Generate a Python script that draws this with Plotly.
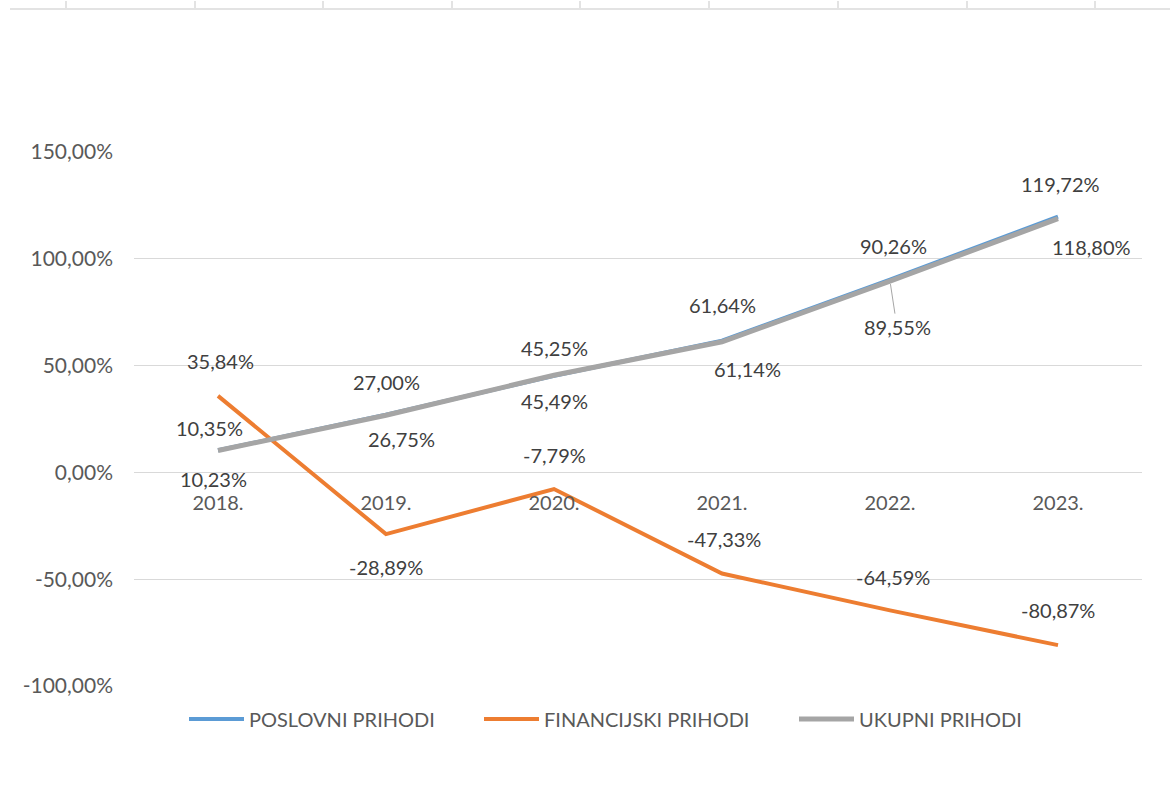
import plotly.graph_objects as go

OFF = 0
W, H = 1170, 787
ML, MR, MT, MB = 134, 28, 152, 101

categories = ["2018.", "2019.", "2020.", "2021.", "2022.", "2023."]
poslovni = [10.35, 27.00, 45.25, 61.64, 90.26, 119.72]
financijski = [35.84, -28.89, -7.79, -47.33, -64.59, -80.87]
ukupni = [10.23, 26.75, 45.49, 61.14, 89.55, 118.80]
series_names = ["POSLOVNI PRIHODI", "FINANCIJSKI PRIHODI", "UKUPNI PRIHODI"]
ytick_vals = [-100, -50, 0, 50, 100, 150]
ytick_text = ["-100,00%", "-50,00%", "0,00%", "50,00%", "100,00%", "150,00%"]

# label offsets (px): (dx, dy) with dy positive = up
off_pos = [(-9, 22), (0, 33), (0, 28), (0, 36), (3, 34), (2, 33)]
off_fin = [(2, 35), (0, -33), (0, 34), (2, 35), (3, 33), (0, 35)]
off_uk = [(-5, -28), (15, -24), (0, -26), (25, -27), (None, None), (33, -28)]

colors = {"pos": "#5B9BD5", "fin": "#ED7D31", "uk": "#A5A5A5"}
FONT = "Lato, 'Open Sans', sans-serif"
LBL = "#404040"
AX = "#595959"


def px2x(px):
    return (px - OFF - ML) / (W - ML - MR)


def px2y(py):
    return (H + OFF - MB - py) / (H - MT - MB)


def fmt(v):
    return f"{v:.2f}".replace(".", ",") + "%"


fig = go.Figure()
fig.add_trace(go.Scatter(x=categories, y=poslovni, mode="lines", name=series_names[0],
                         line=dict(color=colors["pos"], width=4), legend="legend"))
fig.add_trace(go.Scatter(x=categories, y=financijski, mode="lines", name=series_names[1],
                         line=dict(color=colors["fin"], width=4), legend="legend2"))
fig.add_trace(go.Scatter(x=categories, y=ukupni, mode="lines", name=series_names[2],
                         line=dict(color=colors["uk"], width=5), legend="legend3"))

annotations = []
for vals, offs in [(poslovni, off_pos), (financijski, off_fin), (ukupni, off_uk)]:
    for i, (v, (dx, dy)) in enumerate(zip(vals, offs)):
        if dx is None:
            continue
        annotations.append(dict(x=i, y=v, xref="x", yref="y", text=fmt(v), showarrow=False,
                                xshift=dx, yshift=dy,
                                font=dict(family=FONT, size=20, color=LBL)))
# label with leader line
annotations.append(dict(x=4, y=ukupni[4], xref="x", yref="y", text=fmt(ukupni[4]),
                        showarrow=True, arrowhead=0, arrowwidth=1, arrowcolor="#A6A6A6",
                        ax=7, ay=46, standoff=3,
                        font=dict(family=FONT, size=20, color=LBL)))

shapes = [dict(type="line", xref="paper", yref="paper", x0=px2x(10), x1=px2x(1170),
               y0=px2y(9), y1=px2y(9), line=dict(color="#E3E3E3", width=2))]
for tx in [66, 195, 323, 452, 580, 709, 838, 967, 1095]:
    shapes.append(dict(type="line", xref="paper", yref="paper", x0=px2x(tx), x1=px2x(tx),
                       y0=px2y(1), y1=px2y(8), line=dict(color="#E3E3E3", width=2)))

legend_common = dict(orientation="h", yanchor="middle", y=px2y(719), xanchor="left",
                     font=dict(family=FONT, size=20, color=AX), bgcolor="rgba(0,0,0,0)",
                     itemwidth=55)

fig.update_layout(
    width=W, height=H,
    margin=dict(l=ML, r=MR, t=MT, b=MB),
    paper_bgcolor="white", plot_bgcolor="white",
    separators=", ",
    font=dict(family=FONT, color=AX),
    xaxis=dict(type="category", range=[-0.5, 5.5], anchor="free", position=px2y(472),
               showgrid=False, showline=False, zeroline=False, ticks="",
               tickfont=dict(family=FONT, size=20, color=AX), ticklabelstandoff=17),
    yaxis=dict(range=[-100, 150], tickvals=ytick_vals, ticktext=ytick_text,
               showgrid=True, gridcolor="#D9D9D9", gridwidth=1, zeroline=True,
               zerolinecolor="#D9D9D9", zerolinewidth=1, showline=False, ticks="",
               tickfont=dict(family=FONT, size=21, color=AX), ticklabelstandoff=20),
    legend=dict(legend_common, x=px2x(184)),
    legend2=dict(legend_common, x=px2x(479)),
    legend3=dict(legend_common, x=px2x(794)),
    annotations=annotations,
    shapes=shapes,
    showlegend=True,
)

fig.write_html("out.html", config={"displayModeBar": False},
               post_script="document.body.style.margin='0';document.body.style.overflow='hidden';")
